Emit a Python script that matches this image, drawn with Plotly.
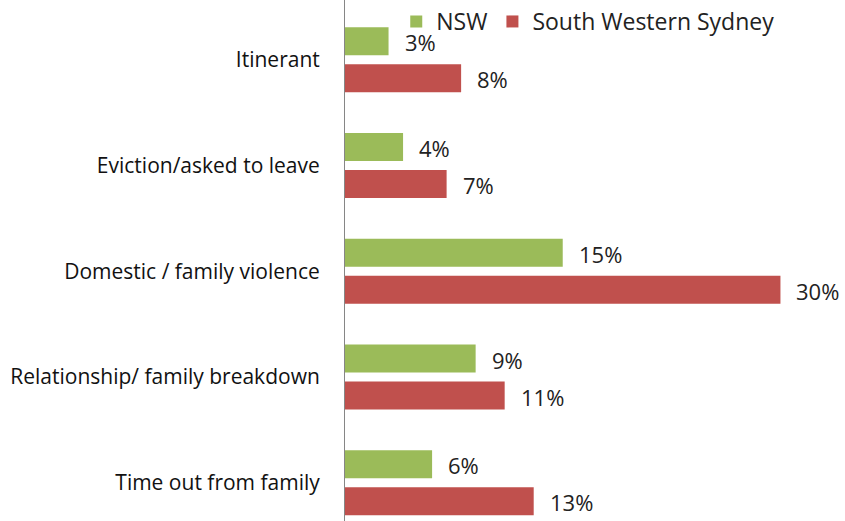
import plotly.graph_objects as go

categories = ["Itinerant", "Eviction/asked to leave", "Domestic / family violence",
              "Relationship/ family breakdown", "Time out from family"]
nsw = [3, 4, 15, 9, 6]
sws = [8, 7, 30, 11, 13]
series_names = ["NSW", "South Western Sydney"]
colors = ["#9BBB59", "#C0504D"]

FONT = "Open Sans"
pos = list(range(len(categories)))
OFF = 0.175
W = 0.265

fig = go.Figure()
for name, vals, col, sgn in [(series_names[0], nsw, colors[0], -1), (series_names[1], sws, colors[1], 1)]:
    fig.add_trace(go.Bar(
        y=[p + sgn * OFF for p in pos], x=vals, orientation="h", name=name,
        marker=dict(color=col, line=dict(width=0)), width=W,
    ))
    for p, v in zip(pos, vals):
        fig.add_annotation(x=v, y=p + sgn * OFF, text=f"{v}%", showarrow=False,
                           xanchor="left", xshift=14, yshift=-1,
                           font=dict(family=FONT, size=22, color="#222222"))

fig.update_layout(
    width=845, height=521,
    margin=dict(l=345, r=21, t=0, b=0, autoexpand=False),
    paper_bgcolor="white", plot_bgcolor="white",
    barmode="overlay",
    showlegend=True,
    legend=dict(orientation="h", x=0.107, y=1.0, xanchor="left", yanchor="top",
                font=dict(family=FONT, size=23, color="#222222"),
                traceorder="normal", itemwidth=30, bgcolor="rgba(0,0,0,0)"),
    font=dict(family=FONT, size=21, color="#222222"),
)
fig.update_xaxes(range=[0, 33], showticklabels=False, showgrid=False, zeroline=False, showline=False,
                 automargin=False)
fig.update_yaxes(range=[4.361, -0.566], tickvals=pos, ticktext=categories, automargin=False,
                 showgrid=False, zeroline=False, showline=True, linecolor="#868686", linewidth=1,
                 ticks="", ticklabelstandoff=20, tickfont=dict(family=FONT, size=21, color="#111111"))

fig.write_html("out.html", config={"displayModeBar": False},
               post_script="document.body.style.margin='0';document.body.style.padding='0';")
